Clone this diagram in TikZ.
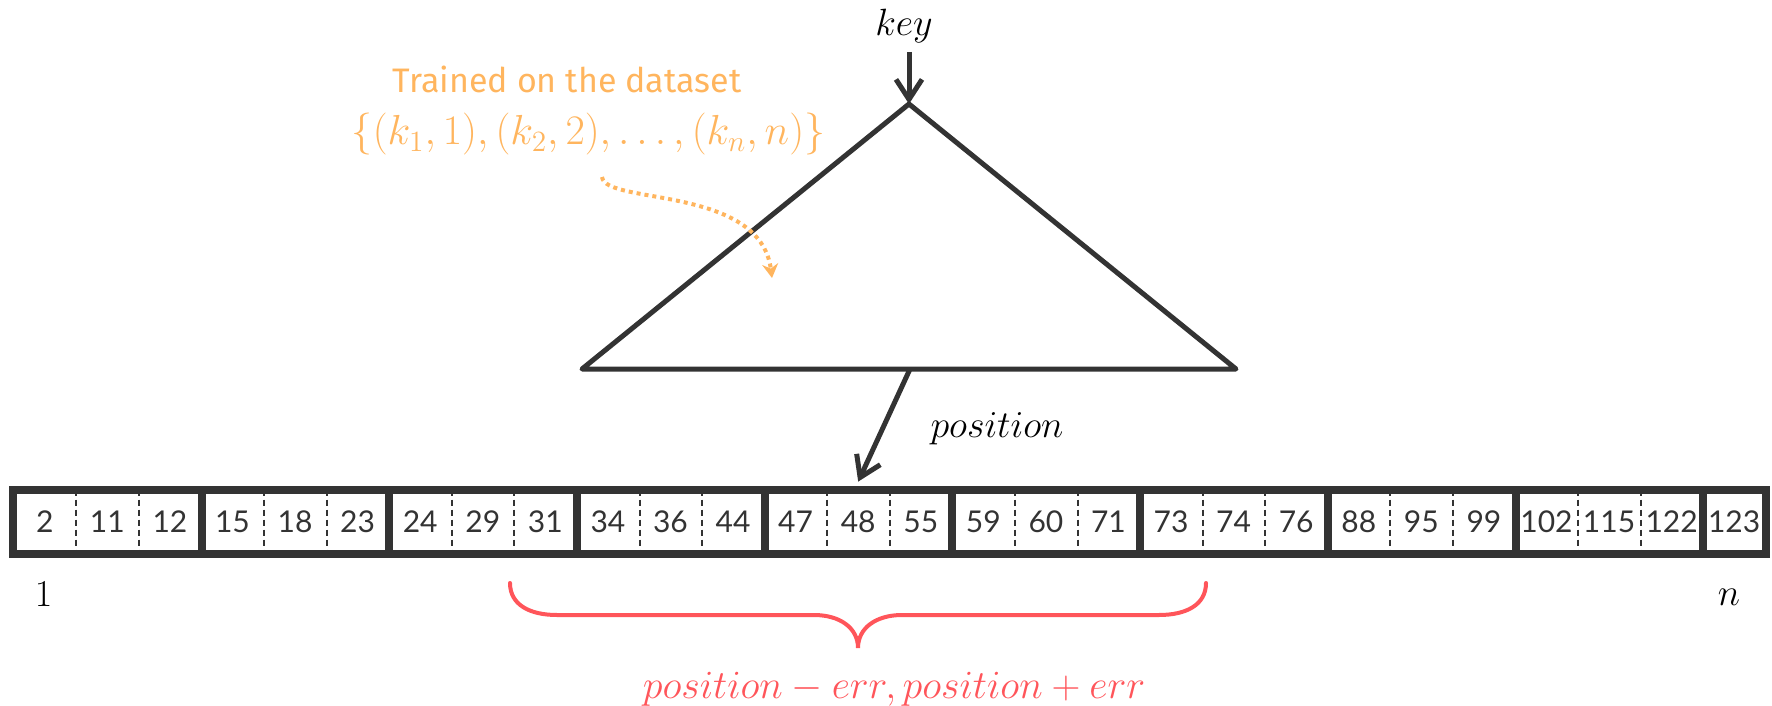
\RequirePackage{fix-cm}
\documentclass[tikz,border=0pt]{standalone}
\usepackage{fontspec}
\setmainfont{Lato}
\newfontfamily\handfont{Fira Sans}
\usetikzlibrary{arrows.meta}
\definecolor{ink}{HTML}{333333}
\definecolor{orng}{HTML}{FFB55E}
\definecolor{redc}{HTML}{FF555A}
\begin{document}
\begin{tikzpicture}[x=0.5pt,y=-0.5pt,
  cellnum/.style={inner sep=0pt, minimum width=31.285pt, minimum height=32pt,
    font=\fontsize{15}{17}\selectfont, text=ink},
  border/.style={draw=ink, line width=4pt},
  sep/.style={draw=ink, line width=1pt, dash pattern=on 3pt off 2pt},
  arr/.style={draw=ink, line width=2.5pt,
    -{Straight Barb[length=10pt,width=13pt,line width=2.5pt]}},
  tri/.style={draw=ink, line width=2.5pt, line join=round},
  mathlbl/.style={font=\fontsize{19}{22}\selectfont, inner sep=0pt},
  hand/.style={font=\handfont\fontsize{17}{20}\selectfont, text=orng, inner sep=0pt},
  dotarr/.style={draw=orng, line width=2pt, dash pattern=on 2pt off 2pt,
    -{Stealth[length=7pt,width=8pt]}},
  bracestyle/.style={draw=redc, line width=2pt, line cap=round},
]
\useasboundingbox (0,0) rectangle (1772,706);

% cells
\foreach \v [count=\i] in {2,11,12,15,18,23,24,29,31,34,36,44,47,48,55,59,60,71,73,74,76,88,95,99,102,115,122,123}
  {\node[cellnum] (c\i) at ({13.5+(\i-0.5)*62.57},522) {\v};}
\foreach \i in {1,2,4,5,7,8,10,11,13,14,16,17,19,20,22,23,25,26}
  {\draw[sep] (c\i.north east) -- (c\i.south east);}
\foreach \i in {3,6,9,12,15,18,21,24,27}
  {\draw[border] (c\i.north east) -- (c\i.south east);}
\draw[border] (c1.north west) rectangle (c28.south east);

% triangle model
\coordinate (apex) at (909,104);
\coordinate (bl) at (582,369);
\coordinate (br) at (1236,369);
\coordinate (posstart) at (910,369);
\draw[tri] (apex) -- (br) -- (bl) -- cycle;

% key
\node[mathlbl, anchor=base] (key) at (904,36) {$key$};
\coordinate (keystart) at (909,52);
\draw[arr] (keystart) -- (apex);

% position
\node[mathlbl, anchor=base] (poslbl) at (997,437) {$position$};
\draw[arr] (posstart) -- ([yshift=4pt]c14.north);

% training annotation
\node[hand, anchor=base] (trained) at (567,93) {Trained on the dataset};
\node[mathlbl, font=\fontsize{21}{24}\selectfont, text=orng, anchor=base] (dataset) at (588.5,145) {$\{(k_1,1),(k_2,2),\ldots,(k_n,n)\}$};
\coordinate (dotstart) at (602,177);
\coordinate (dotend) at (772,278);
\draw[dotarr] (dotstart) .. controls (605,205) and (760,185) .. (dotend);

% index labels
\node[mathlbl, anchor=base] (one) at (43.5,606) {$1$};
\node[mathlbl, anchor=base] (nn) at (1729,605) {$n$};

% error brace
\coordinate (brL) at (510,583);
\coordinate (brM) at (858,648);
\coordinate (brR) at (1206,583);
\draw[bracestyle] (brL) .. controls (510,605) and (530,615) .. (557,615)
  -- (814,615) .. controls (840,615) and (858,628) .. (brM)
  .. controls (858,628) and (876,615) .. (902,615)
  -- (1159,615) .. controls (1186,615) and (1206,605) .. (brR);
\node[mathlbl, font=\fontsize{20}{23}\selectfont, text=redc, anchor=base] (range) at (894,698) {$position-err,position+err$};
\end{tikzpicture}
\end{document}
